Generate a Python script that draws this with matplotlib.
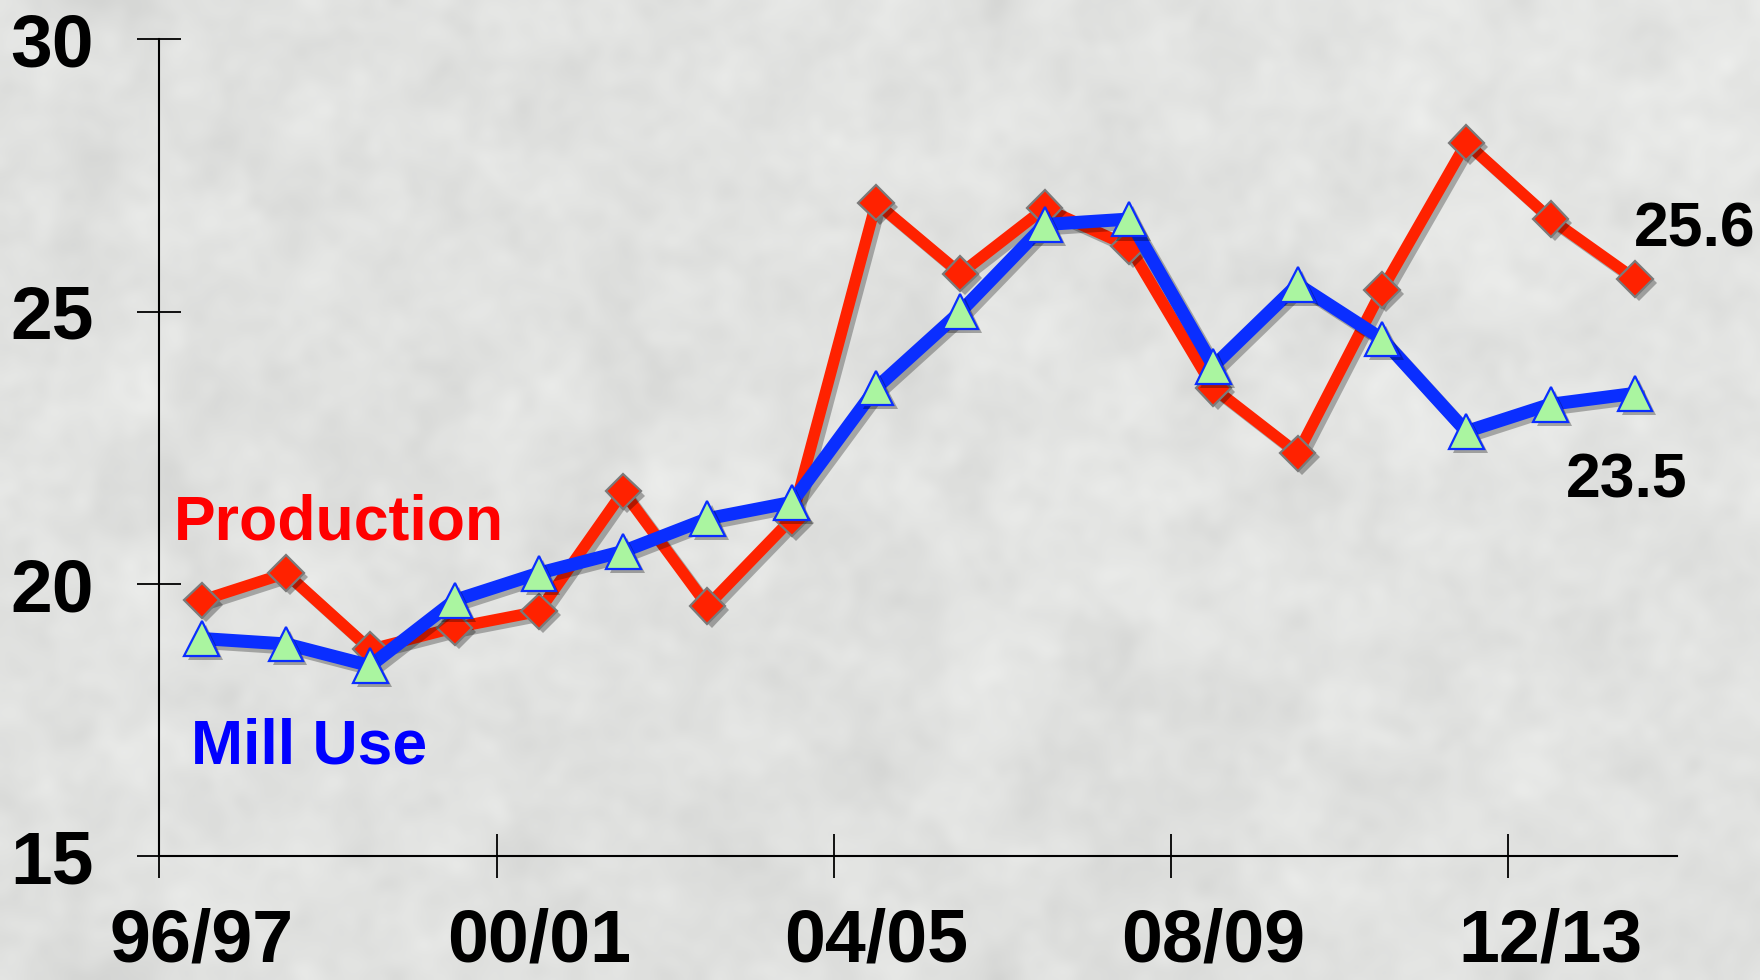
import numpy as np
import matplotlib
matplotlib.use("Agg")
import matplotlib.pyplot as plt
import matplotlib.patheffects as pe

# Crop years (season labels) and values, million bales
seasons = ["96/97", "97/98", "98/99", "99/00", "00/01", "01/02", "02/03", "03/04",
           "04/05", "05/06", "06/07", "07/08", "08/09", "09/10", "10/11", "11/12",
           "12/13", "13/14"]
production = [19.7, 20.2, 18.8, 19.2, 19.5, 21.7, 19.6, 21.2, 27.0, 25.7,
              26.9, 26.2, 23.6, 22.4, 25.4, 28.1, 26.7, 25.6]
mill_use = [19.0, 18.9, 18.5, 19.7, 20.2, 20.6, 21.2, 21.5, 23.6, 25.0,
            26.6, 26.7, 24.0, 25.5, 24.5, 22.8, 23.3, 23.5]
shown_labels = ["96/97", "00/01", "04/05", "08/09", "12/13"]
y_ticks = [15, 20, 25, 30]

plt.rcParams["font.family"] = ["Liberation Sans", "DejaVu Sans"]
plt.rcParams["font.weight"] = "bold"

fig = plt.figure(figsize=(17.6, 9.8), dpi=100)

# marble-like light grey backdrop
bg_ax = fig.add_axes([0, 0, 1, 1], zorder=-10)
rng = np.random.default_rng(7)
H, W = 245, 440
noise = rng.standard_normal((H, W))
fy = np.fft.fftfreq(H)[:, None]
fx = np.fft.fftfreq(W)[None, :]
smooth = np.real(np.fft.ifft2(np.fft.fft2(noise) * np.exp(-(fx**2 + fy**2) / (2 * 0.03**2))))
fine = np.real(np.fft.ifft2(np.fft.fft2(noise[::-1]) * np.exp(-(fx**2 + fy**2) / (2 * 0.1**2))))
tex = smooth / smooth.std() * 0.6 + fine / fine.std() * 0.4
tex = 0.885 + 0.016 * tex
gy = np.linspace(0, 1, H)[:, None]
gx = np.linspace(0, 1, W)[None, :]
tex = tex + 0.02 * (gx * (1 - gy)) - 0.006
rgb = np.dstack([tex, tex + 0.004, tex - 0.003]).clip(0, 1)
bg_ax.imshow(rgb, aspect="auto", interpolation="bicubic", extent=[0, 1, 0, 1])
bg_ax.set_axis_off()

ax = fig.add_axes([0.0906, 0.1261, 0.8623, 0.8338])
ax.patch.set_alpha(0)

x = np.arange(len(seasons))

red = "#FF2200"
blue = "#0A2EFF"
shadow_line = [pe.SimpleLineShadow(offset=(3, -3), shadow_color="k", alpha=0.28), pe.Normal()]
shadow_mark = [pe.SimplePatchShadow(offset=(3, -3), shadow_rgbFace="k", alpha=0.3), pe.Normal()]

ax.plot(x, production, color=red, lw=8.2, solid_joinstyle="miter", zorder=3,
        path_effects=shadow_line)
ax.plot(x, production, ls="none", marker="D", ms=18, mfc=red, mec="#7A7A7A",
        mew=1.6, zorder=4, path_effects=shadow_mark)
ax.plot(x, mill_use, color=blue, lw=9.4, solid_joinstyle="miter", zorder=5,
        path_effects=shadow_line)
ax.plot(x, mill_use, ls="none", marker="^", ms=25, mfc="#AAF5A0", mec=blue,
        mew=1.6, zorder=6, path_effects=shadow_mark)

ax.set_xlim(-0.5, 17.5)
ax.set_ylim(15, 30)

for s in ["top", "right"]:
    ax.spines[s].set_visible(False)
for s in ["left", "bottom"]:
    ax.spines[s].set_linewidth(1.5)
    ax.spines[s].set_color("black")

ax.set_yticks(y_ticks)
ax.set_yticklabels([str(v) for v in y_ticks])
ax.set_xticks([-0.5, 3.5, 7.5, 11.5, 15.5])
ax.set_xticklabels([])
ax.tick_params(axis="both", direction="inout", length=32, width=1.3, color="black")
ax.tick_params(axis="y", labelsize=54, pad=31)

# season labels sit under the points, ticks mark the four-year boundaries
for lab in shown_labels:
    i = seasons.index(lab)
    ax.text(i, -0.062, lab, transform=ax.get_xaxis_transform(), ha="center",
            va="top", fontsize=53, fontweight="bold", color="black")

ax.text(-0.33, 20.81, "Production", color="#FF0000", fontsize=45,
        fontweight="bold", ha="left", va="baseline", zorder=7)
ax.text(-0.13, 16.71, "Mill Use", color="#0000FF", fontsize=45,
        fontweight="bold", ha="left", va="baseline", zorder=7)
ax.text(16.99, 26.19, f"{production[-1]:.1f}", color="black", fontsize=45,
        fontweight="bold", ha="left", va="baseline", zorder=7)
ax.text(16.18, 21.58, f"{mill_use[-1]:.1f}", color="black", fontsize=45,
        fontweight="bold", ha="left", va="baseline", zorder=7)

fig.savefig("out.png", dpi=100)
